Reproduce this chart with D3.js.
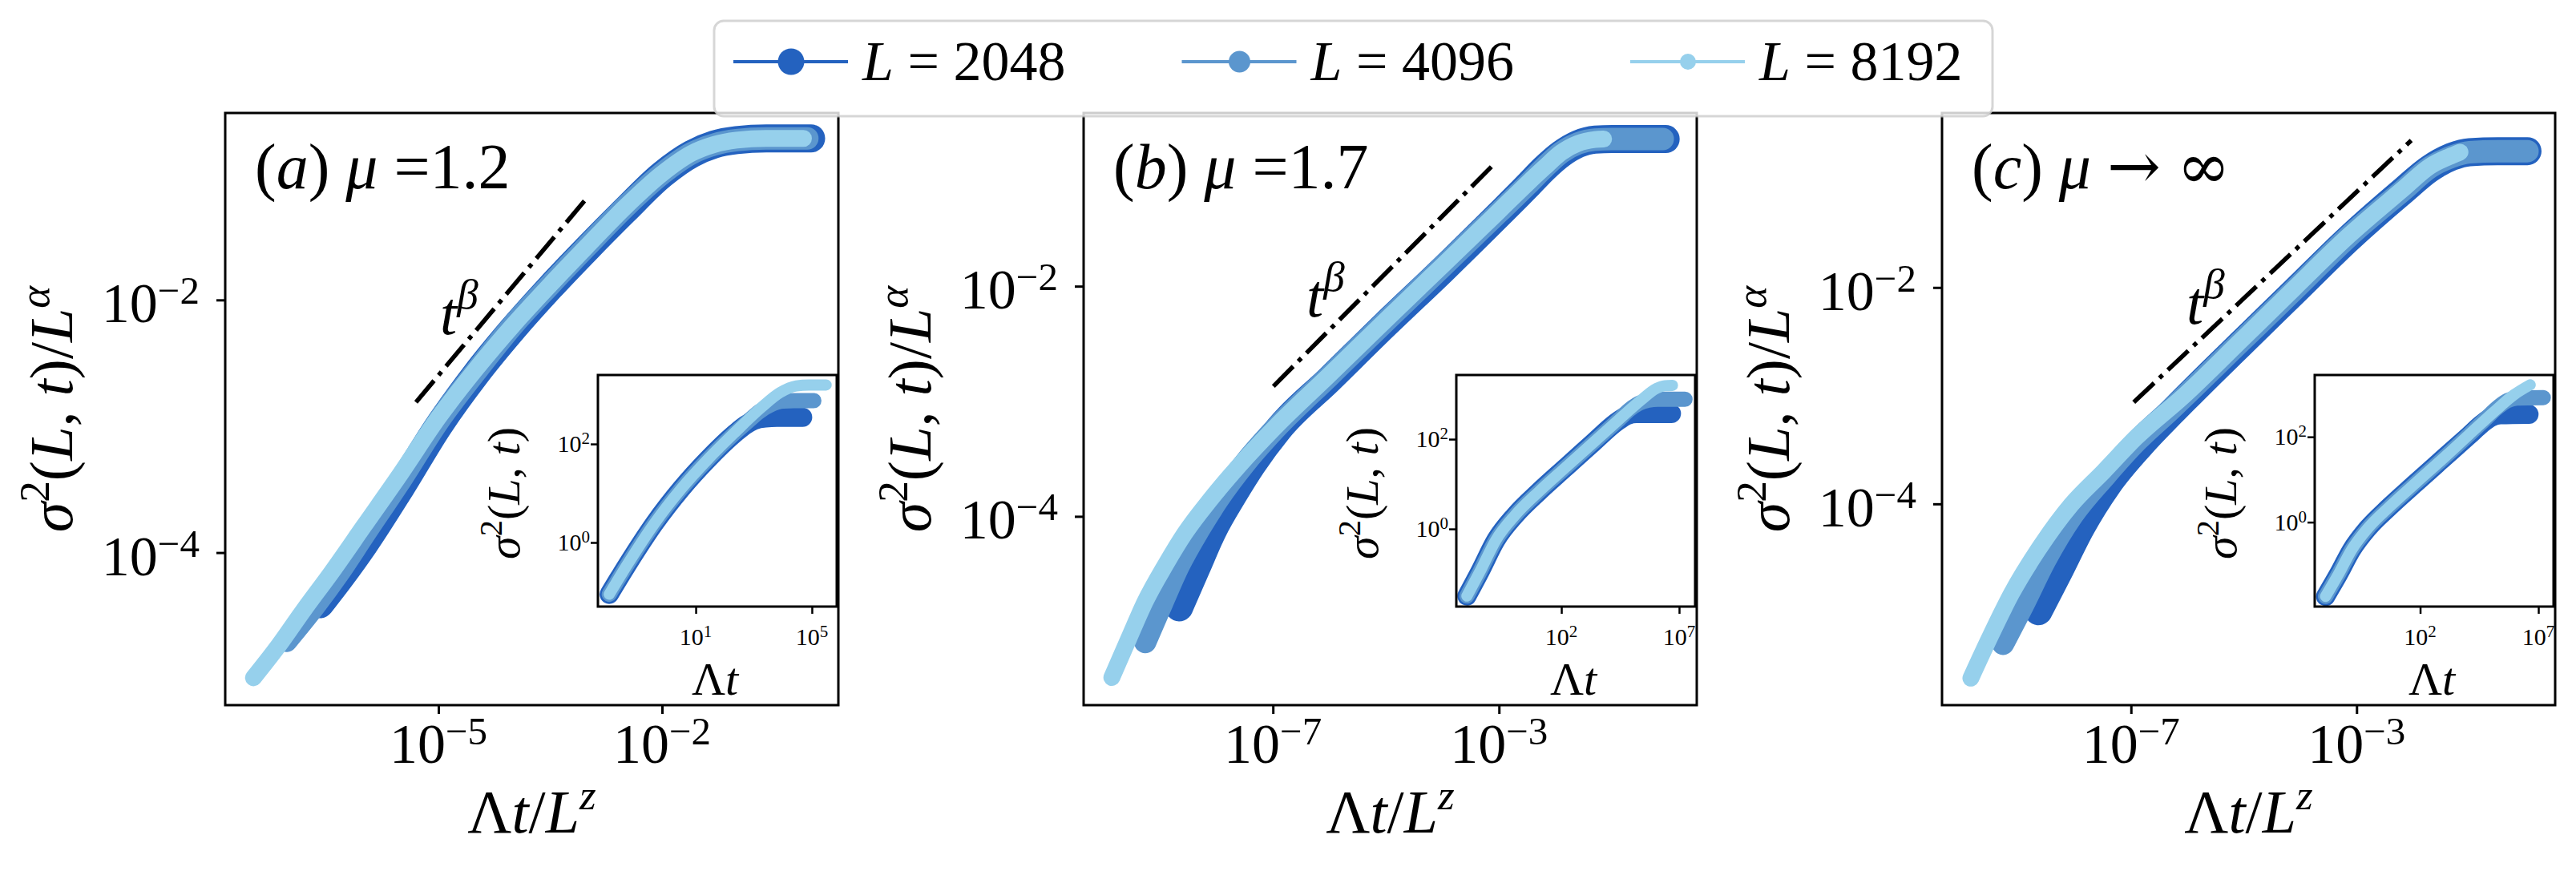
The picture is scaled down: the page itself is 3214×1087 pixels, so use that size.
<!DOCTYPE html>
<html>
<head>
<meta charset="utf-8">
<script src="https://cdn.jsdelivr.net/npm/d3@7"></script>
<style>
  body { margin: 0; background: #fff; }
  svg { display: block; }
  text { font-family: "Liberation Serif", "DejaVu Serif", serif; fill: #000; }
</style>
</head>
<body>
<script>
// system sizes, one series per size
const sizes = [2048, 4096, 8192];

// tick values
const xTicksA = [1e-5, 1e-2];
const xTicksBC = [1e-7, 1e-3];
const yTicksMain = [1e-4, 1e-2];
const insetXTicksA = [1e1, 1e5];
const insetXTicksBC = [1e2, 1e7];
const insetYTicks = [1e0, 1e2];

// (a) mu = 1.2, main panel: [Λt/L^z, σ²/L^α]
const a2048 = [[2.57e-7,3.9e-5],[5.0e-7,6.5e-5],[1e-6,1.15e-4],[3.16e-6,3.3e-4],[1e-5,1e-3],[3.16e-5,2.57e-3],[1e-4,5.9e-3],[3.16e-4,1.26e-2],[1e-3,2.57e-2],[3.16e-3,5.1e-2],[1e-2,9.8e-2],[2.5e-2,0.143],[5e-2,0.17],[0.1,0.184],[0.25,0.19],[1.0,0.19]];
const a4096 = [[9.1e-8,2.0e-5],[2.0e-7,3.55e-5],[4.5e-7,6.8e-5],[1e-6,1.38e-4],[3.16e-6,3.8e-4],[1e-5,1.1e-3],[3.16e-5,2.7e-3],[1e-4,6.3e-3],[3.16e-4,1.32e-2],[1e-3,2.69e-2],[3.16e-3,5.4e-2],[1e-2,0.1],[2.5e-2,0.145],[5e-2,0.17],[0.1,0.184],[0.25,0.19],[0.89,0.19]];
const a8192 = [[3.3e-8,1.02e-5],[7.1e-8,1.82e-5],[1.58e-7,3.55e-5],[3.63e-7,6.9e-5],[1e-6,1.62e-4],[3.16e-6,4.27e-4],[1e-5,1.17e-3],[3.16e-5,2.82e-3],[1e-4,6.3e-3],[3.16e-4,1.32e-2],[1e-3,2.69e-2],[3.16e-3,5.4e-2],[1e-2,0.1],[2.5e-2,0.145],[5e-2,0.17],[0.1,0.184],[0.25,0.19],[0.79,0.19]];
// (a) inset: [Λt, σ²]
const ia2048 = [[1.05e-2,8.9e-2],[4.6e-2,0.37],[0.38,2.45],[3.16,12.3],[26.3,49],[219,162],[501,240],[1000,302],[2510,339],[6310,347],[4.8e4,347]];
const ia4096 = [[1.05e-2,8.9e-2],[4.6e-2,0.37],[0.38,2.45],[3.16,12.3],[26.3,49],[219,166],[631,288],[1585,457],[3980,631],[1e4,741],[2.5e4,759],[1.17e5,759]];
const ia8192 = [[1.05e-2,8.9e-2],[4.6e-2,0.37],[0.38,2.45],[3.16,12.3],[26.3,49],[219,170],[1820,550],[7940,1100],[2.9e4,1510],[7.9e4,1580],[3.1e5,1580]];

// (b) mu = 1.7
const b2048 = [[2.19e-9,1.62e-5],[4.4e-9,3.55e-5],[8.5e-9,7.4e-5],[2.0e-8,1.55e-4],[4.3e-8,2.82e-4],[1.26e-7,5.75e-4],[1e-6,1.55e-3],[1e-5,4.7e-3],[1e-4,1.38e-2],[1e-3,4.2e-2],[3.16e-3,7.4e-2],[6.3e-3,0.105],[1.26e-2,0.141],[2.5e-2,0.172],[5e-2,0.188],[0.1,0.19],[0.89,0.19]];
const b4096 = [[5.5e-10,8.1e-6],[1.1e-9,1.78e-5],[2.14e-9,3.7e-5],[5.0e-9,7.8e-5],[1.07e-8,1.41e-4],[3.16e-8,2.88e-4],[1e-7,5.5e-4],[1e-6,1.66e-3],[1e-5,5.0e-3],[1e-4,1.48e-2],[1e-3,4.4e-2],[3.16e-3,7.6e-2],[6.3e-3,0.107],[1.26e-2,0.145],[2.5e-2,0.174],[5e-2,0.188],[0.1,0.19],[0.79,0.19]];
const b8192 = [[1.41e-10,3.98e-6],[2.82e-10,8.7e-6],[5.5e-10,1.82e-5],[1.26e-9,3.8e-5],[2.75e-9,7.1e-5],[7.9e-9,1.41e-4],[2.5e-8,2.75e-4],[1.07e-7,5.9e-4],[1e-6,1.7e-3],[1e-5,5.1e-3],[1e-4,1.51e-2],[1e-3,4.5e-2],[3.16e-3,7.8e-2],[6.3e-3,0.107],[1.26e-2,0.145],[2.5e-2,0.174],[5e-2,0.188],[7.1e-2,0.19]];
const ib2048 = [[9.8e-3,3.2e-2],[3.5e-2,0.112],[0.17,0.575],[1.07,2.0],[11.2,6.8],[151,23.4],[2090,81],[2.8e4,263],[6.3e4,339],[1.58e5,372],[4.7e6,372]];
const ib4096 = [[9.8e-3,3.2e-2],[3.5e-2,0.112],[0.17,0.575],[1.07,2.0],[11.2,6.8],[151,23.4],[2090,81],[2.8e4,275],[7.9e4,457],[2.0e5,631],[5.0e5,741],[1.26e6,776],[1.78e7,776]];
const ib8192 = [[9.8e-3,3.2e-2],[3.5e-2,0.112],[0.17,0.575],[1.07,2.0],[11.2,6.8],[151,23.4],[2090,81],[2.8e4,275],[2.3e5,724],[1.1e6,1350],[2.5e6,1550],[5.2e6,1580]];

// (c) mu -> infinity
const c2048 = [[2.29e-9,1.02e-5],[5.2e-9,2.34e-5],[1.29e-8,6.0e-5],[3.9e-8,1.51e-4],[1.48e-7,3.5e-4],[5.4e-7,7.1e-4],[2.5e-6,1.58e-3],[8.5e-6,2.95e-3],[7.8e-5,9.1e-3],[7.2e-4,2.82e-2],[6.6e-3,7.8e-2],[2.0e-2,0.126],[4.9e-2,0.162],[0.1,0.178],[0.316,0.182],[1.07,0.182]];
const c4096 = [[5.4e-10,5.1e-6],[1.23e-9,1.17e-5],[3.0e-9,3.0e-5],[9.1e-9,7.8e-5],[3.5e-8,1.82e-4],[1.26e-7,3.8e-4],[5.0e-7,7.4e-4],[8.5e-6,3.1e-3],[7.8e-5,9.5e-3],[7.2e-4,2.95e-2],[6.6e-3,7.9e-2],[2.0e-2,0.129],[4.9e-2,0.162],[0.1,0.178],[0.316,0.182],[1.07,0.182]];
const c8192 = [[1.45e-10,2.45e-6],[3.1e-10,5.75e-6],[7.6e-10,1.48e-5],[2.29e-9,3.8e-5],[8.7e-9,9.8e-5],[3.3e-8,2.0e-4],[1.23e-7,4.1e-4],[9.1e-7,1.02e-3],[8.5e-6,3.16e-3],[7.8e-5,9.8e-3],[7.2e-4,3.0e-2],[6.6e-3,8.1e-2],[2.0e-2,0.132],[4.9e-2,0.166],[6.8e-2,0.178]];
const ic2048 = [[1e-2,1.82e-2],[3.5e-2,6.0e-2],[0.126,0.224],[0.60,0.71],[4.8,2.24],[65,8.3],[870,30],[1.15e4,107],[4.0e4,200],[1e5,288],[2.5e5,331],[4.0e6,339]];
const ic4096 = [[1e-2,1.82e-2],[3.5e-2,6.0e-2],[0.126,0.224],[0.60,0.71],[4.8,2.24],[65,8.3],[870,30],[1.15e4,112],[6.3e4,275],[2.0e5,501],[5.0e5,708],[1.26e6,813],[1.62e7,832]];
const ic8192 = [[1e-2,1.82e-2],[3.5e-2,6.0e-2],[0.126,0.224],[0.60,0.71],[4.8,2.24],[65,8.3],[870,30],[1.15e4,112],[1.55e5,417],[9.5e5,977],[4.5e6,1660]];

// t^beta guide lines, two end points each
const guideA = [[5.0e-6,1.55e-3],[1e-3,6.5e-2]];
const guideB = [[1.02e-7,1.35e-3],[8.9e-4,0.12]];
const guideC = [[1.12e-7,8.7e-4],[9.3e-3,0.229]];

const colors = ["#2462BF", "#5B96CE", "#96D0EC"];
const bandMain = [35, 28, 21];
const bandInset = [24, 19, 14];
const legendMarker = [33, 27, 20];

const W = 3214, H = 1087;
const frameTop = 141, pw = 765, ph = 739;
const inset = { dx: 465, dy: 327, w: 298, h: 289 };

const panels = [
  { id: "a", left: 281, label: [["(",""],["a","i"],[")",""],[" ",""],["\u03bc","i"],[" =1.2",""]],
    x: [1.38e-8, 2.32], y: [6.2e-6, 0.302], xt: xTicksA, data: [a2048, a4096, a8192],
    guide: guideA, tb: [268, 276],
    ix: [4.27e-3, 7.2e5], iy: [5.0e-2, 2512], ixt: insetXTicksA, idata: [ia2048, ia4096, ia8192] },
  { id: "b", left: 1352, label: [["(",""],["b","i"],[")",""],[" ",""],["\u03bc","i"],[" =1.7",""]],
    x: [4.47e-11, 3.16], y: [2.29e-6, 0.32], xt: xTicksBC, data: [b2048, b4096, b8192],
    guide: guideB, tb: [278, 254],
    ix: [3.47e-3, 4.8e7], iy: [1.86e-2, 2690], ixt: insetXTicksBC, idata: [ib2048, ib4096, ib8192] },
  { id: "c", left: 2423, label: [["(",""],["c","i"],[")",""],[" ",""],["\u03bc","i"],[" ",""],["\u2192","f"],[" ",""],["\u221e","f"]],
    x: [4.47e-11, 3.31], y: [1.38e-6, 0.41], xt: xTicksBC, data: [c2048, c4096, c8192],
    guide: guideC, tb: [305, 263],
    ix: [3.47e-3, 4.4e7], iy: [1.05e-2, 2818], ixt: insetXTicksBC, idata: [ic2048, ic4096, ic8192] }
];

const svg = d3.select("body").append("svg").attr("width", W).attr("height", H);
const defs = svg.append("defs");

// text with italic parts ("i"), superscripts ("s") and symbol font ("f")
function addMath(text, parts, size, raise) {
  let up = 0;
  parts.forEach(([s, st]) => {
    const sup = st.includes("s");
    const t = text.append("tspan").text(s)
      .attr("font-size", sup ? size * 0.7 : size)
      .attr("font-style", st.includes("i") ? "italic" : "normal");
    if (st.includes("f")) t.attr("font-family", "DejaVu Serif").attr("font-weight", 300);
    const want = sup ? -size * raise : 0;
    if (want !== up) { t.attr("dy", want - up); up = want; }
  });
  return text;
}

function powLabel(g, v, x, y, size, anchor) {
  const e = Math.round(Math.log10(v));
  const t = g.append("text").attr("x", x).attr("y", y).attr("text-anchor", anchor);
  addMath(t, [["10", ""], [(e < 0 ? "\u2212" : "") + Math.abs(e), "s"]], size, 0.33);
}

function drawBands(g, data, x, y, widths) {
  const line = d3.line().x(d => x(d[0])).y(d => y(d[1])).curve(d3.curveMonotoneX);
  data.forEach((s, i) => {
    g.append("path").datum(s)
      .attr("d", line)
      .attr("fill", "none")
      .attr("stroke", colors[i])
      .attr("stroke-width", widths[i])
      .attr("stroke-linecap", "round")
      .attr("stroke-linejoin", "round");
  });
}

function styleAxis(ax, w) {
  ax.select(".domain").remove();
  ax.selectAll(".tick line").attr("stroke", "#000").attr("stroke-width", w);
}

panels.forEach(p => {
  const g = svg.append("g").attr("transform", `translate(${p.left},${frameTop})`);
  const x = d3.scaleLog().domain(p.x).range([0, pw]);
  const y = d3.scaleLog().domain(p.y).range([ph, 0]);

  defs.append("clipPath").attr("id", "clip-" + p.id)
    .append("rect").attr("width", pw).attr("height", ph);

  const plot = g.append("g").attr("clip-path", `url(#clip-${p.id})`);
  drawBands(plot, p.data, x, y, bandMain);

  // t^beta guide
  plot.append("line")
    .attr("x1", x(p.guide[0][0])).attr("y1", y(p.guide[0][1]))
    .attr("x2", x(p.guide[1][0])).attr("y2", y(p.guide[1][1]))
    .attr("stroke", "#000").attr("stroke-width", 5.5)
    .attr("stroke-dasharray", "35,9,5.5,9");

  addMath(g.append("text").attr("x", p.tb[0]).attr("y", p.tb[1]),
    [["t", "i"], ["\u03b2", "si"]], 76, 0.42);

  // axes
  const xa = g.append("g").attr("transform", `translate(0,${ph})`)
    .call(d3.axisBottom(x).tickValues(p.xt).tickSize(11).tickSizeOuter(0).tickFormat(() => ""));
  styleAxis(xa, 3);
  const ya = g.append("g")
    .call(d3.axisLeft(y).tickValues(yTicksMain).tickSize(11).tickSizeOuter(0).tickFormat(() => ""));
  styleAxis(ya, 3);
  p.xt.forEach(v => powLabel(g, v, x(v), ph + 72, 70, "middle"));
  yTicksMain.forEach(v => powLabel(g, v, -32, y(v) + 28, 70, "end"));

  g.append("rect").attr("width", pw).attr("height", ph)
    .attr("fill", "none").attr("stroke", "#000").attr("stroke-width", 3);

  addMath(g.append("text").attr("x", pw / 2).attr("y", ph + 159).attr("text-anchor", "middle"),
    [["\u039b", ""], ["t", "i"], ["/", ""], ["L", "i"], ["z", "si"]], 76, 0.38);
  addMath(g.append("text").attr("text-anchor", "middle")
      .attr("transform", `translate(-191,${ph / 2}) rotate(-90)`),
    [["\u03c3", "i"], ["2", "s"], ["(", ""], ["L", "i"], [", ", ""], ["t", "i"], [")/", ""], ["L", "i"], ["\u03b1", "si"]], 76, 0.38);

  addMath(g.append("text").attr("x", 37).attr("y", 94), p.label, 80, 0.38);

  // inset
  const ig = g.append("g").attr("transform", `translate(${inset.dx},${inset.dy})`);
  const ix = d3.scaleLog().domain(p.ix).range([0, inset.w]);
  const iy = d3.scaleLog().domain(p.iy).range([inset.h, 0]);
  ig.append("rect").attr("width", inset.w).attr("height", inset.h).attr("fill", "#fff");
  defs.append("clipPath").attr("id", "iclip-" + p.id)
    .append("rect").attr("width", inset.w).attr("height", inset.h);
  drawBands(ig.append("g").attr("clip-path", `url(#iclip-${p.id})`), p.idata, ix, iy, bandInset);

  const ixa = ig.append("g").attr("transform", `translate(0,${inset.h})`)
    .call(d3.axisBottom(ix).tickValues(p.ixt).tickSize(9).tickSizeOuter(0).tickFormat(() => ""));
  styleAxis(ixa, 2.5);
  const iya = ig.append("g")
    .call(d3.axisLeft(iy).tickValues(insetYTicks).tickSize(9).tickSizeOuter(0).tickFormat(() => ""));
  styleAxis(iya, 2.5);
  p.ixt.forEach(v => powLabel(ig, v, ix(v), inset.h + 48, 30, "middle"));
  insetYTicks.forEach(v => powLabel(ig, v, -10, iy(v) + 10, 30, "end"));
  ig.append("rect").attr("width", inset.w).attr("height", inset.h)
    .attr("fill", "none").attr("stroke", "#000").attr("stroke-width", 3);

  addMath(ig.append("text").attr("x", inset.w / 2 - 3).attr("y", inset.h + 110).attr("text-anchor", "middle"),
    [["\u039b", ""], ["t", "i"]], 58, 0.38);
  addMath(ig.append("text").attr("text-anchor", "middle")
      .attr("transform", `translate(-98,${inset.h / 2 + 3}) rotate(-90)`),
    [["\u03c3", "i"], ["2", "s"], ["(", ""], ["L", "i"], [", ", ""], ["t", "i"], [")", ""]], 58, 0.38);
});

// legend
const lg = svg.append("g");
lg.append("rect").attr("x", 891).attr("y", 26).attr("width", 1595).attr("height", 119).attr("rx", 12)
  .attr("fill", "#fff").attr("fill-opacity", 0.8)
  .attr("stroke", "#cccccc").attr("stroke-opacity", 0.8).attr("stroke-width", 3);
const legendX = d3.scaleLinear().domain([0, 1]).range([915, 1474.5]);
sizes.forEach((n, i) => {
  const x0 = legendX(i);
  lg.append("line").attr("x1", x0).attr("x2", x0 + 143).attr("y1", 77).attr("y2", 77)
    .attr("stroke", colors[i]).attr("stroke-width", 4);
  lg.append("circle").attr("cx", x0 + 72).attr("cy", 77).attr("r", legendMarker[i] / 2).attr("fill", colors[i]);
  addMath(lg.append("text").attr("x", x0 + 161).attr("y", 100),
    [["L", "i"], [" = " + n, ""]], 70, 0.38);
});
</script>
</body>
</html>
